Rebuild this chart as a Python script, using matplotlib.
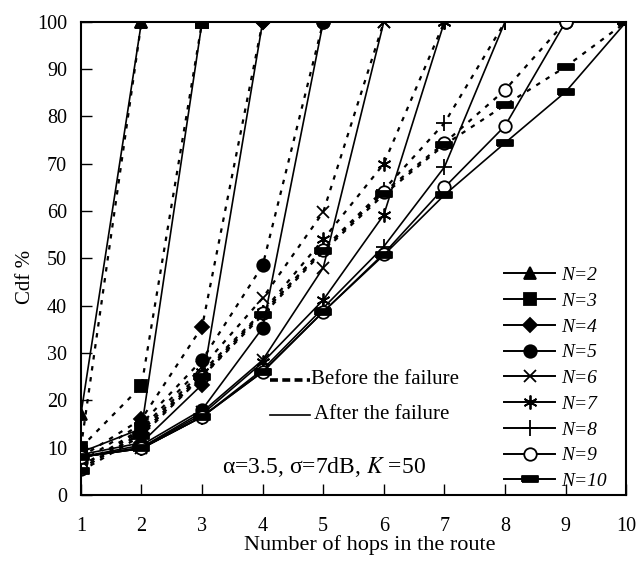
import numpy as np
import matplotlib.pyplot as plt
from matplotlib.lines import Line2D

plt.rcParams['font.family'] = ['Liberation Serif', 'DejaVu Serif']
plt.rcParams['mathtext.fontset'] = 'stix'

hops = [1, 2, 3, 4, 5, 6, 7, 8, 9, 10]
n_values = [2, 3, 4, 5, 6, 7, 8, 9, 10]

# cdf (%) after the failure, index i -> N = i + 2
after = [
    [17, 100],
    [9, 14, 100],
    [8.5, 11, 23.3, 100],
    [8, 10.5, 18, 35.3, 100],
    [8, 10, 17.5, 28.5, 48, 100],
    [8, 10, 17, 28, 41.2, 59.2, 100],
    [8, 9.8, 16.5, 26.5, 39.5, 52.5, 69.3, 100],
    [8, 9.8, 16.5, 26, 38.7, 51, 65, 78, 100],
    [8, 9.8, 16.5, 26, 38.7, 50.7, 63.4, 74.4, 85.2, 100],
]
# cdf (%) before the failure
before = [
    [10, 100],
    [10, 23, 100],
    [8, 16, 35.5, 100],
    [7, 15, 28.5, 48.5, 100],
    [6, 14, 27, 41.6, 59.8, 100],
    [6, 13.5, 26, 38.7, 54, 70, 100],
    [5.5, 13, 25.5, 38.5, 52, 64.5, 78.6, 100],
    [5.5, 13, 25, 38.5, 51.8, 64, 74.4, 85.6, 100],
    [5, 12.5, 25, 38, 51.5, 63.5, 74, 82.4, 90.5, 100],
]

bar = [(-1, -0.35), (1, -0.35), (1, 0.35), (-1, 0.35), (-1, -0.35)]
markers = ['^', 's', 'D', 'o', 'x', (6, 2, 0), '+', 'o', bar]
msizes = [9, 9, 7, 9, 9, 10, 11, 9, 11]
faces = ['k', 'k', 'k', 'k', 'k', 'k', 'k', 'w', 'k']

fig = plt.figure(figsize=(6.37, 5.61), dpi=100)
ax = fig.add_axes([0.127, 0.118, 0.856, 0.843])

handles = []
for i, n in enumerate(n_values):
    b = before[i]
    a = after[i]
    ax.plot(hops[:len(b)], b, color='k', lw=1.6, ls=(0, (2, 3)),
            marker=markers[i], ms=msizes[i], mfc=faces[i], mec='k', mew=1.3,
            zorder=2)
    ax.plot(hops[:len(a)], a, color='k', lw=1.2, ls='-',
            marker=markers[i], ms=msizes[i], mfc=faces[i], mec='k', mew=1.3,
            zorder=3)
    handles.append(Line2D([], [], color='k', lw=1.4, marker=markers[i],
                          ms=msizes[i], mfc=faces[i], mec='k', mew=1.3,
                          label=f'N={n}'))

ax.legend(handles=handles, loc='lower right', frameon=False,
          prop={'style': 'italic', 'size': 14}, handlelength=2.6,
          handletextpad=0.3, labelspacing=0.42,
          bbox_to_anchor=(0.985, -0.015), borderaxespad=0.2)

# line-style key
ax.plot([4.12, 4.78], [24.3, 24.3], color='k', lw=2.6, ls=(0, (2.2, 1.2)))
ax.text(4.8, 24.3, 'Before the failure', fontsize=15, va='center')
ax.plot([4.12, 4.78], [16.9, 16.9], color='k', lw=1.2)
ax.text(4.85, 16.9, 'After the failure', fontsize=15, va='center')
ax.text(3.33, 5.8, r'α=3.5, σ=7dB, $K$ =50', fontsize=17, va='center')

ax.set_xlim(1, 10)
ax.set_ylim(0, 100)
ax.set_xticks(hops)
ax.set_yticks(np.arange(0, 101, 10))
ax.tick_params(direction='in', length=8, width=1, labelsize=14.5,
               top=False, right=False)
ax.tick_params(axis='x', pad=16)
ax.tick_params(axis='y', pad=10)
for s in ax.spines.values():
    s.set_linewidth(1.5)
ax.set_xlabel('Number of hops in the route', fontsize=16)
ax.xaxis.set_label_coords(0.53, -0.085)
ax.set_ylabel('Cdf %', fontsize=15)
ax.yaxis.set_label_coords(-0.085, 0.46)

fig.savefig('out.png', dpi=100)
